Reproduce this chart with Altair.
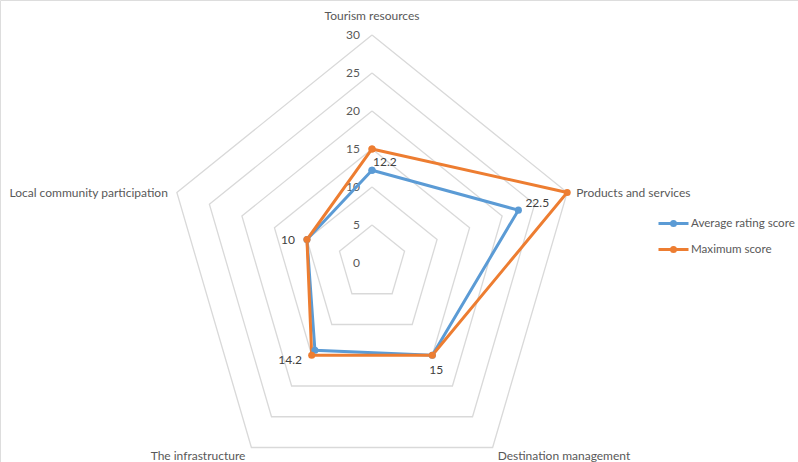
import altair as alt
import pandas as pd

categories = ["Tourism resources", "Products and services", "Destination management",
              "The infrastructure", "Local community participation"]
average_scores = [12.2, 22.5, 15, 14.2, 10]
maximum_scores = [15, 30, 15, 15, 10]
series_names = ["Average rating score", "Maximum score"]
series_colors = ["#5b9bd5", "#ed7d31"]
tick_values = [0, 5, 10, 15, 20, 25, 30]
data_labels = ["12.2", "22.5", "15", "14.2", "10"]

N = len(categories)
FONT = "Lato"
TXT = "#595959"

# long-form tables built from the arrays above (closing each polygon)
rows = []
for s, vals in zip(series_names, [average_scores, maximum_scores]):
    for i in range(N + 1):
        rows.append({"series": s, "idx": i, "category": categories[i % N], "value": vals[i % N]})
series_df = pd.DataFrame(rows)

grid_df = pd.DataFrame([{"level": lv, "idx": i, "value": lv}
                        for lv in tick_values[1:] for i in range(N + 1)])
ticks_df = pd.DataFrame({"value": tick_values, "idx": [0] * len(tick_values),
                         "label": [str(t) for t in tick_values]})
cat_df = pd.DataFrame({"category": categories, "idx": list(range(N)),
                       "value": [tick_values[-1]] * N})
lab_df = pd.DataFrame({"category": categories, "idx": list(range(N)),
                       "value": average_scores, "label": data_labels})

XS = 0.9
xcalc = f"datum.value * sin(datum.idx * 2 * PI / {N}) * {XS}"
ycalc = f"datum.value * cos(datum.idx * 2 * PI / {N})"

xs = alt.Scale(domain=[-48.95, 56.05], nice=False, zero=False)
ys = alt.Scale(domain=[-26.18, 34.6], nice=False, zero=False)
X = alt.X("x:Q", scale=xs, axis=None)
Y = alt.Y("y:Q", scale=ys, axis=None)


def polar(df):
    return alt.Chart(df).transform_calculate(x=xcalc, y=ycalc)


grid = polar(grid_df).mark_line(stroke="#d9d9d9", strokeWidth=1.3).encode(
    x=X, y=Y, detail="level:N", order="idx:Q")

legend_symbol = ("M-1.5,0L1.5,0M-0.2,0A0.2,0.2,0,1,1,0.2,0"
                 "A0.2,0.2,0,1,1,-0.2,0Z")

lines = polar(series_df).mark_line(
    strokeWidth=3, point=alt.OverlayMarkDef(size=50, filled=True, opacity=1)
).encode(
    x=X, y=Y, order="idx:Q",
    color=alt.Color("series:N",
                    scale=alt.Scale(domain=series_names, range=series_colors),
                    legend=alt.Legend(title=None, orient="none", legendX=662, legendY=212,
                                      symbolType=legend_symbol, symbolSize=400,
                                      symbolStrokeWidth=3, labelOffset=6, rowPadding=6,
                                      labelFont=FONT, labelFontSize=11.6, labelColor=TXT,
                                      labelLimit=200)),
)

ticks = polar(ticks_df).mark_text(align="right", baseline="middle", dx=-12,
                                  font=FONT, fontSize=12, color=TXT).encode(
    x=X, y=Y, text="label:N")

cat_style = [("center", 0, -19), ("left", 9, 0), ("left", 5, 9), ("right", -6, 9), ("right", -9, 0)]
cat_layers = []
for c, (al, dx, dy) in zip(categories, cat_style):
    cat_layers.append(
        polar(cat_df).transform_filter(alt.datum.category == c).mark_text(
            align=al, baseline="middle", dx=dx, dy=dy, font=FONT, fontSize=12, color=TXT
        ).encode(x=X, y=Y, text="category:N"))

lab_style = [("left", 1, -8), ("left", 7, -7), ("center", 4, 15), ("right", -13, 10), ("right", -12, 0)]
lab_layers = []
for c, (al, dx, dy) in zip(categories, lab_style):
    lab_layers.append(
        polar(lab_df).transform_filter(alt.datum.category == c).mark_text(
            align=al, baseline="middle", dx=dx, dy=dy, font=FONT, fontSize=12, color="#404040"
        ).encode(x=X, y=Y, text="label:N"))

chart = alt.layer(grid, ticks, lines, *cat_layers, *lab_layers).properties(
    width=798, height=462, padding=0,
    autosize=alt.AutoSizeParams(type="none"),
).configure_view(stroke=None).configure(background="white")

chart.save("out.html", embed_options={"renderer": "svg", "actions": False})
